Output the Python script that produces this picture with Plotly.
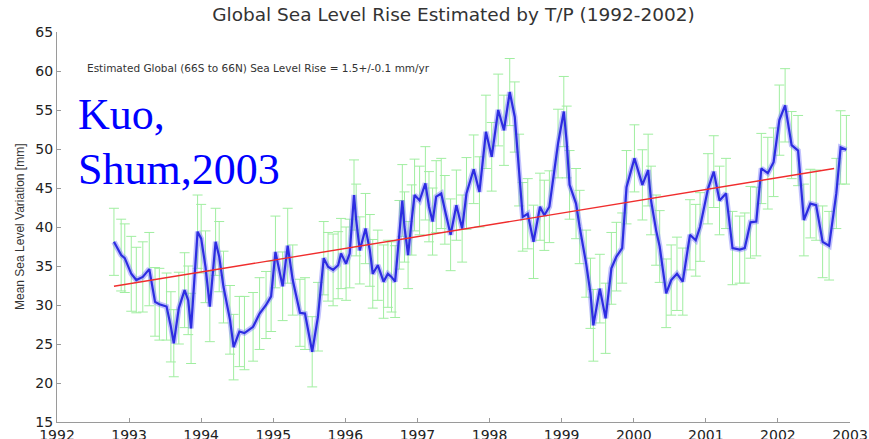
import plotly.graph_objects as go

# ---- data ----
years = [1992.79, 1992.89, 1992.94, 1993.03, 1993.10, 1993.19, 1993.28, 1993.36, 1993.42, 1993.52,
         1993.58, 1993.62, 1993.69, 1993.77, 1993.82, 1993.86, 1993.95, 1994.00, 1994.06, 1994.12,
         1994.20, 1994.25, 1994.31, 1994.40, 1994.45, 1994.53, 1994.60, 1994.72, 1994.81, 1994.90,
         1994.97, 1995.03, 1995.13, 1995.20, 1995.27, 1995.37, 1995.44, 1995.54, 1995.62, 1995.70,
         1995.76, 1995.83, 1995.90, 1995.94, 1996.01, 1996.06, 1996.12, 1996.15, 1996.20, 1996.28,
         1996.34, 1996.38, 1996.45, 1996.53, 1996.59, 1996.64, 1996.69, 1996.75, 1996.79, 1996.82,
         1996.87, 1996.92, 1996.96, 1997.03, 1997.11, 1997.16, 1997.21, 1997.26, 1997.33, 1997.38,
         1997.46, 1997.54, 1997.62, 1997.68, 1997.78, 1997.86, 1997.95, 1998.03, 1998.12, 1998.20,
         1998.28, 1998.35, 1998.41, 1998.46, 1998.53, 1998.61, 1998.70, 1998.76, 1998.83, 1998.95,
         1999.03, 1999.07, 1999.11, 1999.20, 1999.25, 1999.34, 1999.40, 1999.44, 1999.53, 1999.61,
         1999.69, 1999.76, 1999.84, 1999.90, 2000.01, 2000.12, 2000.20, 2000.24, 2000.31, 2000.36,
         2000.45, 2000.52, 2000.60, 2000.68, 2000.78, 2000.86, 2000.92, 2001.03, 2001.11, 2001.19,
         2001.28, 2001.37, 2001.47, 2001.54, 2001.62, 2001.70, 2001.77, 2001.86, 2001.94, 2002.02,
         2002.10, 2002.19, 2002.28, 2002.36, 2002.45, 2002.53, 2002.62, 2002.71, 2002.81, 2002.87,
         2002.95]

sea_level_mm = [38.1, 36.4, 36.0, 34.0, 33.2, 33.6, 34.6, 30.4, 30.1, 29.8,
                27.2, 25.1, 29.6, 31.9, 30.6, 27.0, 39.4, 38.5, 34.9, 29.8,
                38.1, 36.2, 32.3, 28.1, 24.6, 26.6, 26.4, 27.2, 28.9, 30.0,
                31.1, 36.8, 32.4, 37.6, 33.2, 29.0, 28.9, 24.0, 28.5, 36.0,
                34.9, 34.5, 35.1, 36.6, 35.3, 36.6, 44.1, 40.9, 37.0, 39.8,
                37.0, 34.0, 35.1, 33.0, 34.0, 33.6, 33.0, 39.0, 43.4, 40.0,
                36.4, 40.9, 44.1, 43.4, 45.6, 42.6, 40.7, 43.9, 44.3, 42.2,
                39.0, 42.8, 39.8, 44.3, 47.4, 44.5, 52.2, 49.0, 55.0, 52.4,
                57.3, 54.1, 47.3, 41.3, 41.7, 38.1, 42.6, 41.5, 42.6, 50.7,
                54.8, 50.9, 45.4, 43.0, 40.0, 35.3, 31.5, 27.4, 32.1, 28.3,
                34.7, 36.2, 37.3, 45.1, 48.8, 45.4, 47.3, 43.4, 39.6, 37.5,
                31.5, 33.2, 34.0, 33.0, 39.0, 38.3, 40.0, 44.9, 47.1, 43.4,
                44.3, 37.3, 37.1, 37.3, 40.6, 40.7, 47.5, 46.9, 48.3, 53.7,
                55.6, 50.5, 49.8, 40.9, 43.0, 42.8, 38.1, 37.6, 44.3, 50.2,
                49.9]

error_mm = [4.3, 4.6, 4.4, 4.8, 4.2, 4.5, 4.7, 4.4, 4.6, 4.3,
            4.5, 4.3, 4.6, 4.8, 4.4, 4.5, 4.7, 4.4, 4.6, 4.5,
            4.3, 4.5, 4.6, 4.4, 4.2, 4.5, 4.7, 4.4, 4.6, 4.3,
            4.5, 4.6, 4.4, 4.8, 4.5, 4.3, 4.6, 4.5, 4.4, 4.7,
            4.4, 4.6, 4.3, 4.5, 4.7, 4.4, 4.5, 4.6, 4.3, 4.5,
            4.6, 4.4, 4.5, 4.7, 4.3, 4.5, 4.6, 4.4, 4.6, 4.5,
            4.3, 4.5, 4.6, 4.4, 4.7, 4.5, 4.3, 4.6, 4.5, 4.4,
            4.6, 4.5, 4.3, 4.6, 4.4, 4.5, 4.7, 4.4, 4.6, 4.5,
            4.3, 4.5, 4.6, 4.4, 4.5, 4.7, 4.3, 4.5, 4.6, 4.4,
            4.5, 4.6, 4.4, 4.5, 4.7, 4.3, 4.5, 4.6, 4.4, 4.5,
            4.6, 4.4, 4.5, 4.7, 4.3, 4.5, 4.6, 4.4, 4.5, 4.6,
            4.4, 4.5, 4.7, 4.3, 4.5, 4.6, 4.4, 4.5, 4.6, 4.4,
            4.5, 4.7, 4.3, 4.5, 4.6, 4.4, 4.5, 4.6, 4.4, 4.5,
            4.7, 4.3, 4.5, 4.6, 4.4, 4.5, 4.6, 4.4, 4.5, 4.7,
            4.4]

trend_years = [1992.79, 2002.78]
trend_mm = [32.4, 47.5]

year_ticks = [1992, 1993, 1994, 1995, 1996, 1997, 1998, 1999, 2000, 2001, 2002, 2003]
year_labels = [str(y) for y in year_ticks]
mm_ticks = [15, 20, 25, 30, 35, 40, 45, 50, 55, 60, 65]

title_text = "Global Sea Level Rise Estimated by T/P (1992-2002)"
note_text = "Estimated Global (66S to 66N) Sea Level Rise = 1.5+/-0.1 mm/yr"
ylabel_text = "Mean Sea Level Variation [mm]"
author_lines = ["Kuo,", "Shum,2003"]

# ---- figure ----
W, H = 869, 439
PLOT_LEFT, PLOT_RIGHT, PLOT_TOP, PLOT_BOTTOM = 57, 850, 32, 422   # window pixels
L = PLOT_LEFT
T = PLOT_TOP
R = W - PLOT_RIGHT
B = H - PLOT_BOTTOM
plot_w = PLOT_RIGHT - PLOT_LEFT
plot_h = PLOT_BOTTOM - PLOT_TOP


def px(xw):
    return (xw - PLOT_LEFT) / plot_w


def py(yw):
    return (PLOT_BOTTOM - yw) / plot_h


fig = go.Figure()

# error bars
fig.add_trace(go.Scatter(
    x=years, y=sea_level_mm, mode="markers",
    marker=dict(size=1, color="rgba(0,0,0,0)"),
    error_y=dict(type="data", array=error_mm, visible=True,
                 color="rgb(160,238,160)", thickness=1, width=5),
    showlegend=False, hoverinfo="skip"))

# blurred halo of the blue line
fig.add_trace(go.Scatter(
    x=years, y=sea_level_mm, mode="lines",
    line=dict(color="rgba(120,120,250,0.45)", width=5.5),
    showlegend=False, hoverinfo="skip"))
# blue line core
fig.add_trace(go.Scatter(
    x=years, y=sea_level_mm, mode="lines",
    line=dict(color="rgb(45,45,225)", width=2.2),
    showlegend=False))

# linear trend
fig.add_trace(go.Scatter(
    x=trend_years, y=trend_mm, mode="lines",
    line=dict(color="rgb(240,45,45)", width=1.4),
    showlegend=False))

tick_font = dict(family="DejaVu Sans", size=14, color="#222")
axis_common = dict(showgrid=False, zeroline=False, showline=True,
                   linecolor="#9a9a9a", linewidth=1,
                   ticks="inside", ticklen=4, tickcolor="#9a9a9a",
                   tickfont=tick_font, automargin=False,
                   ticklabeloverflow="allow")

fig.update_layout(
    width=W, height=H,
    margin=dict(l=L, r=R, t=T, b=B, pad=0, autoexpand=False),
    paper_bgcolor="white", plot_bgcolor="white",
    showlegend=False,
    title=dict(text=title_text, x=0.5, xref="paper", xanchor="center",
               y=1 - 15 / H, yref="container", yanchor="middle",
               font=dict(family="DejaVu Sans", size=18.5, color="#333")),
    xaxis=dict(range=[1992, 2003], tickvals=year_ticks, ticktext=year_labels,
               **axis_common),
    yaxis=dict(range=[15, 65], tickvals=mm_ticks, **axis_common),
)

# small fit note
fig.add_annotation(text=note_text, xref="paper", yref="paper",
                   x=px(85), y=py(68),
                   xanchor="left", yanchor="middle", showarrow=False,
                   font=dict(family="DejaVu Sans", size=10.5, color="#333"))

# y-axis title
fig.add_annotation(text=ylabel_text, xref="paper", yref="paper",
                   x=px(20), y=0.5, textangle=-90,
                   xanchor="center", yanchor="middle", showarrow=False,
                   font=dict(family="Liberation Sans", size=12, color="#333"))

# author text
author_centers = [114, 169]
for line_text, cy in zip(author_lines, author_centers):
    fig.add_annotation(text=line_text, xref="paper", yref="paper",
                       x=px(76), y=py(cy),
                       xanchor="left", yanchor="middle", showarrow=False,
                       font=dict(family="Liberation Serif", size=44, color="#0000ff"))

# remove the page's default body margin so the figure fills the window exactly
fig.write_html("out.html",
               config={"displayModeBar": False},
               post_script="document.body.style.margin='0';"
                           "document.body.style.overflow='hidden';")
